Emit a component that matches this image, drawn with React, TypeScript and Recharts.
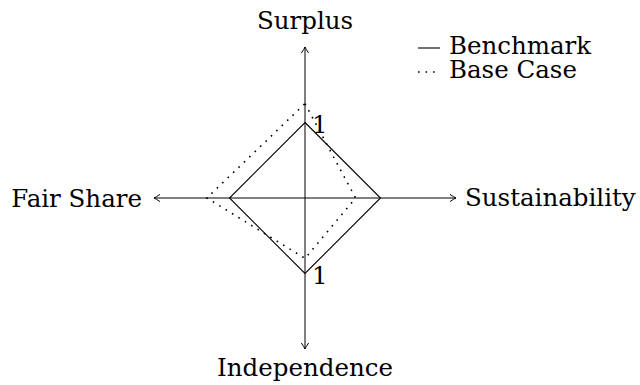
import React from 'react';
import { RadarChart, Radar, PolarGrid, PolarAngleAxis, PolarRadiusAxis, Legend } from 'recharts';

const axes = ['Surplus', 'Sustainability', 'Independence', 'Fair Share'];
const benchmark = [1, 1, 1, 1];
const baseCase = [1.25, 0.67, 0.8, 1.3];
const radiusTicks = [1];
const radiusDomain: [number, number] = [0, 2];
const seriesNames = ['Benchmark', 'Base Case'];

const data = axes.map((a, i) => ({ axis: a, benchmark: benchmark[i], baseCase: baseCase[i] }));

const FONT = '"DejaVu Serif", serif';
const FONT_SIZE = 24.5;
const DOTTED = '1.6 5.9';

const AngleTick = (props: any) => {
  const { x, y, payload } = props;
  const angle = payload.coordinate;
  const rad = (-angle * Math.PI) / 180;
  const dx = Math.cos(rad);
  const dy = Math.sin(rad);
  const nx = -dy;
  const ny = dx;
  const back = 6;
  const half = 3.6;
  const bx = x - dx * back;
  const by = y - dy * back;
  const p1 = [bx + nx * half, by + ny * half];
  const p2 = [bx - nx * half, by - ny * half];
  const q1 = [x - dx * 2.2 + nx * 0.9, y - dy * 2.2 + ny * 0.9];
  const q2 = [x - dx * 2.2 - nx * 0.9, y - dy * 2.2 - ny * 0.9];
  const d = `M${p1[0]},${p1[1]} Q${q1[0]},${q1[1]} ${x},${y} Q${q2[0]},${q2[1]} ${p2[0]},${p2[1]}`;
  let tx = x;
  let ty = y;
  let anchor: 'start' | 'middle' | 'end' = 'middle';
  if (dy < -0.5) {
    ty = y - 18;
  } else if (dy > 0.5) {
    ty = y + 27;
  } else if (dx > 0.5) {
    anchor = 'start';
    tx = x + 9;
    ty = y + 8;
  } else {
    anchor = 'end';
    tx = x - 12;
    ty = y + 9;
  }
  return (
    <g>
      <path d={d} fill="none" stroke="#000" strokeWidth={1} />
      <text x={tx} y={ty} textAnchor={anchor} style={{ fontFamily: FONT, fontSize: FONT_SIZE }} fill="#000">
        {payload.value}
      </text>
    </g>
  );
};

const RadiusTick = (props: any) => {
  const { x, y, payload } = props;
  return (
    <text x={x + 7} y={y + 10} textAnchor="start" style={{ fontFamily: FONT, fontSize: FONT_SIZE }} fill="#000">
      {payload.value}
    </text>
  );
};

const legendStyles: Record<string, string | undefined> = {
  Benchmark: undefined,
  'Base Case': DOTTED,
};

const LegendContent = () => (
  <div style={{ fontFamily: FONT, fontSize: FONT_SIZE, color: '#000' }}>
    {seriesNames.map((name) => (
      <div key={name} style={{ display: 'flex', alignItems: 'flex-start', height: 24, lineHeight: '24px', whiteSpace: 'nowrap' }}>
        <svg width={24} height={24} style={{ flex: 'none', marginRight: 8 }}>
          <line x1={1} x2={23} y1={14} y2={14} stroke="#000" strokeWidth={name === 'Base Case' ? 1.6 : 1.1} strokeDasharray={legendStyles[name]} />
        </svg>
        <span>{name}</span>
      </div>
    ))}
  </div>
);

export default function App() {
  return (
    <div style={{ position: 'absolute', left: 0, top: 0, width: 640, height: 385, background: '#fff' }}>
      <RadarChart
        width={640}
        height={385}
        data={data}
        cx={305}
        cy={198}
        outerRadius={151}
        margin={{ top: 0, right: 0, bottom: 0, left: 0 }}
      >
        <PolarGrid polarRadius={[]} stroke="#000" strokeWidth={1} radialLines={true} />
        <PolarAngleAxis dataKey="axis" tick={<AngleTick />} tickLine={false} axisLine={false} tickSize={0.01} />
        <PolarRadiusAxis
          angle={90}
          domain={radiusDomain}
          ticks={radiusTicks}
          type="number"
          tick={<RadiusTick />}
          axisLine={false}
          tickLine={false}
        />
        <PolarRadiusAxis
          radiusAxisId="lower"
          angle={-90}
          domain={radiusDomain}
          ticks={radiusTicks}
          type="number"
          tick={<RadiusTick />}
          axisLine={false}
          tickLine={false}
        />
        <Radar
          name={seriesNames[0]}
          dataKey="benchmark"
          stroke="#000"
          strokeWidth={1.1}
          fill="none"
          fillOpacity={0}
          dot={false}
          isAnimationActive={false}
        />
        <Radar
          name={seriesNames[1]}
          dataKey="baseCase"
          radiusAxisId="lower"
          stroke="#000"
          strokeWidth={1.6}
          strokeDasharray={DOTTED}
          fill="none"
          fillOpacity={0}
          dot={false}
          isAnimationActive={false}
        />
        <Legend
          content={<LegendContent />}
          wrapperStyle={{ position: 'absolute', left: 417, top: 34, width: 'auto', bottom: 'auto' }}
        />
      </RadarChart>
    </div>
  );
}
